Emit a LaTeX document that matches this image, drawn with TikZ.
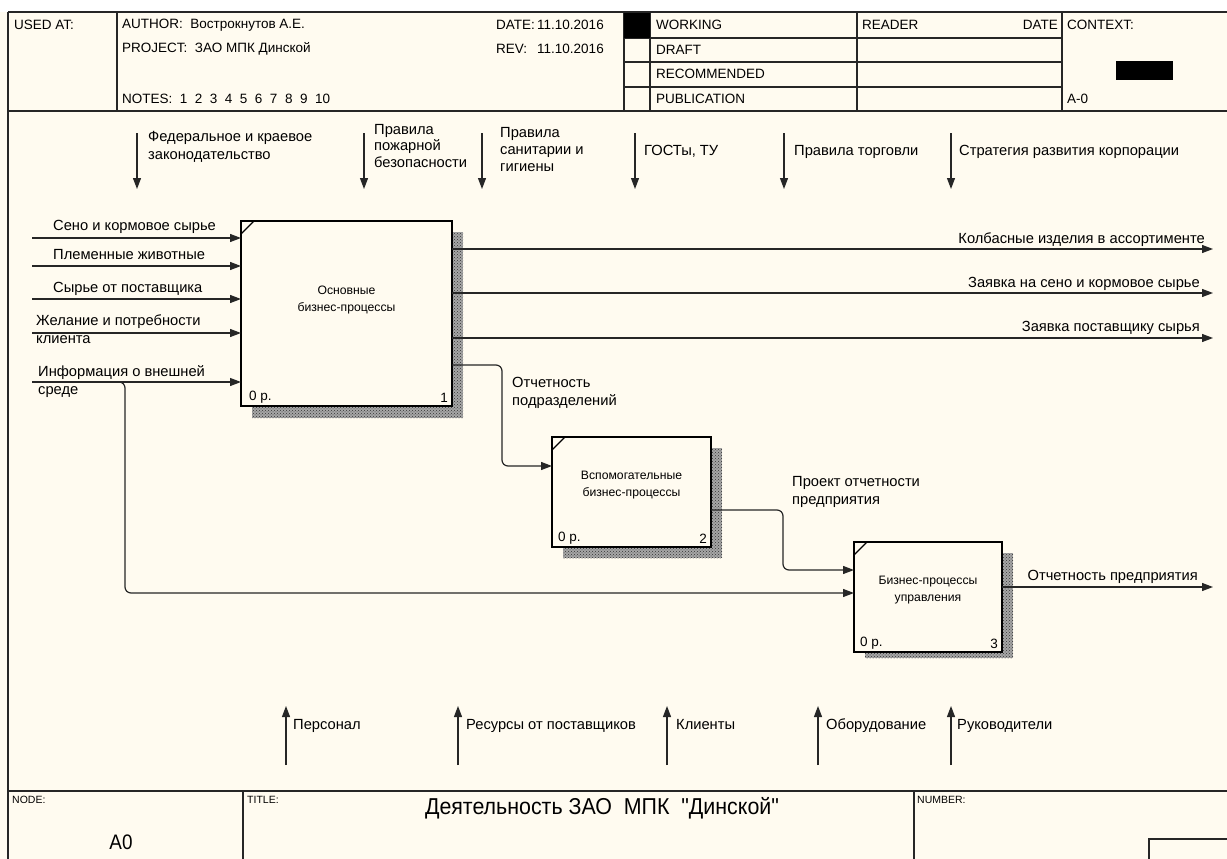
\documentclass[tikz,border=0pt]{standalone}
\usepackage{fontspec}
\usepackage{graphicx}
\setmainfont{Liberation Sans}
\newfontfamily\titlefam{Liberation Sans}
\usetikzlibrary{arrows.meta,patterns}
\definecolor{paper}{RGB}{255,251,240}
\newcommand\hdrfont{\fontsize{13.5}{15}\selectfont}
\newcommand\lblfont{\fontsize{14.7}{18}\selectfont}
\newcommand\boxfont{\fontsize{12.2}{17}\selectfont}
\newcommand\tinyfont{\fontsize{10.5}{12}\selectfont}
\pgfdeclarelayer{background}
\pgfsetlayers{background,main}
\begin{document}
\begin{tikzpicture}
[
x=1pt, y=-1pt,
frameline/.style={draw=black!85, line width=1.3pt},
procbox/.style={rectangle, draw=black, line width=2.2pt, fill=paper, anchor=north west, inner sep=0, outer sep=0},
boxtext/.style={align=center, inner sep=0, font=\boxfont},
arr/.style={draw=black!85, line width=1.2pt, -{Triangle[length=11pt,width=8pt]}},
lbl/.style={anchor=west, inner sep=0, align=left, font=\lblfont},
mlbl/.style={anchor=west, inner sep=0, font=\lblfont, text height=1.5ex, text depth=.4ex},
rlbl/.style={anchor=east, inner sep=0, align=right, font=\lblfont},
hdr/.style={anchor=west, inner sep=0, font=\hdrfont},
hatch/.style={preaction={fill=black!35}, pattern=crosshatch dots, pattern color=black!80}
]
\useasboundingbox (0,0) rectangle (1227,859);
%Frame
\draw[frameline] (8,12) -- (1227,12);
\draw[frameline] (8,111) -- (1227,111);
\draw[frameline] (8,791) -- (1227,791);
\draw[draw=black!85, line width=2.6pt] (8,12) -- (8,859);
\draw[frameline] (117,12) -- (117,111);
\draw[frameline] (624,12) -- (624,111);
\draw[frameline] (650,12) -- (650,111);
\draw[frameline] (857,12) -- (857,111);
\draw[frameline] (1062,12) -- (1062,111);
\draw[frameline] (624,38) -- (1062,38);
\draw[frameline] (624,62) -- (1062,62);
\draw[frameline] (624,87) -- (1062,87);
\fill[black] (624,13) rectangle (650,38);
\fill[black] (1116,61) rectangle (1173,80);
\draw[frameline] (243,791) -- (243,859);
\draw[frameline] (914,791) -- (914,859);
\draw[frameline] (1149,859) -- (1149,839) -- (1227,839);

%Header
\node[hdr] at(14,25)		(usedat) {USED AT:};
\node[hdr] at(122,25)		(author) {AUTHOR:\ \ Вострокнутов А.Е.};
\node[hdr] at(122,49)		(project) {PROJECT:\ \ ЗАО МПК Динской};
\node[hdr] at(122,99)		(notes) {NOTES:\ \ 1\ \ 2\ \ 3\ \ 4\ \ 5\ \ 6\ \ 7\ \ 8\ \ 9\ \ 10};
\node[hdr] at(496,25)		(date) {DATE:};
\node[hdr] at(537,25)		(dateval) {11.10.2016};
\node[hdr] at(496,49)		(rev) {REV:};
\node[hdr] at(537,49)		(revval) {11.10.2016};
\node[hdr] at(656,25)		(working) {WORKING};
\node[hdr] at(656,50)		(draft) {DRAFT};
\node[hdr] at(656,74)		(recom) {RECOMMENDED};
\node[hdr] at(656,99)		(public) {PUBLICATION};
\node[hdr] at(862,25)		(reader) {READER};
\node[hdr, anchor=east] at(1058,25)	(rdate) {DATE};
\node[hdr] at(1067,25)		(context) {CONTEXT:};
\node[hdr] at(1067,99)		(ctxnode) {A-0};

%Boxes
\node[procbox, minimum width=211pt, minimum height=185pt] at(241,221)	(b1) {};
\node[procbox, minimum width=159pt, minimum height=110pt] at(552,437)	(b2) {};
\node[procbox, minimum width=148pt, minimum height=110pt] at(854,542)	(b3) {};
\node[boxtext] at([yshift=13pt]b1.center)	(t1) {Основные\\бизнес-процессы};
\node[boxtext] at([yshift=7pt]b2.center)	(t2) {Вспомогательные\\бизнес-процессы};
\node[boxtext] at([yshift=7pt]b3.center)	(t3) {Бизнес-процессы\\управления};
\node[hdr, anchor=south west] at([shift={(8pt,3pt)}]b1.south west)	(p1) {0 р.};
\node[hdr, anchor=south west] at([shift={(6pt,3pt)}]b2.south west)	(p2) {0 р.};
\node[hdr, anchor=south west] at([shift={(6pt,3pt)}]b3.south west)	(p3) {0 р.};
\node[hdr, anchor=south east] at([shift={(-4pt,3pt)}]b1.south east)	(n1) {1};
\node[hdr, anchor=south east] at([shift={(-4pt,3pt)}]b2.south east)	(n2) {2};
\node[hdr, anchor=south east] at([shift={(-4pt,3pt)}]b3.south east)	(n3) {3};
\draw[line width=1.2pt] ([yshift=-13pt]b1.north west) -- ([xshift=13pt]b1.north west);
\draw[line width=1.2pt] ([yshift=-13pt]b2.north west) -- ([xshift=13pt]b2.north west);
\draw[line width=1.2pt] ([yshift=-13pt]b3.north west) -- ([xshift=13pt]b3.north west);

%Inputs
\coordinate (in1) at (32,238);
\coordinate (in2) at (32,266);
\coordinate (in3) at (32,299);
\coordinate (in4) at (32,333);
\coordinate (in5) at (32,382);
\draw[arr] (in1) -- (in1 -| b1.west);
\draw[arr] (in2) -- (in2 -| b1.west);
\draw[arr] (in3) -- (in3 -| b1.west);
\draw[arr] (in4) -- (in4 -| b1.west);
\draw[arr] (in5) -- (in5 -| b1.west);
\node[lbl] at(53,227)		(l1) {Сено и кормовое сырье};
\node[lbl] at(53,255)		(l2) {Племенные животные};
\node[lbl] at(53,289)		(l3) {Сырье от поставщика};
\node[lbl] at(36,329)		(l4) {Желание и потребности\\клиента};
\node[lbl] at(38,382)		(l5) {Информация о внешней\\среде};
\coordinate (br) at (116,382);
\coordinate (k5) at (125,593);
\draw[arr, rounded corners=6pt] (br) -| (k5) -- (k5 -| b3.west);

%Outputs
\coordinate (out1) at (1213,249);
\coordinate (out2) at (1213,293);
\coordinate (out3) at (1213,338);
\coordinate (out4) at (1213,587);
\draw[arr] (out1 -| b1.east) -- (out1);
\draw[arr] (out2 -| b1.east) -- (out2);
\draw[arr] (out3 -| b1.east) -- (out3);
\draw[arr] (out4 -| b3.east) -- (out4);
\node[rlbl] at(1205,240)	(r1) {Колбасные изделия в ассортименте};
\node[rlbl] at(1200,284)	(r2) {Заявка на сено и кормовое сырье};
\node[rlbl] at(1200,328)	(r3) {Заявка поставщику сырья};
\node[rlbl] at(1198,577)	(r4) {Отчетность предприятия};

%Links
\coordinate (k1) at (502,365);
\coordinate (k2) at (502,466);
\draw[arr, rounded corners=6pt] (k1 -| b1.east) -- (k1) -- (k2) -- (k2 -| b2.west);
\node[lbl] at(512,393)		(l12) {Отчетность\\подразделений};
\coordinate (k3) at (783,510);
\coordinate (k4) at (783,570);
\draw[arr, rounded corners=6pt] (k3 -| b2.east) -- (k3) -- (k4) -- (k4 -| b3.west);
\node[lbl] at(792,492)		(l23) {Проект отчетности\\предприятия};

%Controls
\coordinate (c1) at (137,133);
\coordinate (c2) at (364,133);
\coordinate (c3) at (482,133);
\coordinate (c4) at (635,133);
\coordinate (c5) at (784,133);
\coordinate (c6) at (951,133);
\draw[arr] (c1) -- ++(0,56);
\draw[arr] (c2) -- ++(0,56);
\draw[arr] (c3) -- ++(0,56);
\draw[arr] (c4) -- ++(0,56);
\draw[arr] (c5) -- ++(0,56);
\draw[arr] (c6) -- ++(0,56);
\node[lbl] at(148,147)		(u1) {Федеральное и краевое\\законодательство};
\node[lbl, font=\fontsize{14.7}{16.5}\selectfont] at(374,146)	(u2) {Правила\\пожарной\\безопасности};
\node[lbl, font=\fontsize{14.7}{17}\selectfont] at(500,150)	(u3) {Правила\\санитарии и\\гигиены};
\node[mlbl] at(644,153)		(u4) {ГОСТы, ТУ};
\node[mlbl] at(794,153)		(u5) {Правила торговли};
\node[mlbl] at(959,153)		(u6) {Стратегия развития корпорации};

%Mechanisms
\coordinate (m1) at (286,765);
\coordinate (m2) at (458,765);
\coordinate (m3) at (667,765);
\coordinate (m4) at (818,765);
\coordinate (m5) at (951,765);
\draw[arr] (m1) -- ++(0,-59);
\draw[arr] (m2) -- ++(0,-59);
\draw[arr] (m3) -- ++(0,-59);
\draw[arr] (m4) -- ++(0,-59);
\draw[arr] (m5) -- ++(0,-59);
\node[mlbl] at(293,727)		(d1) {Персонал};
\node[mlbl] at(466,727)		(d2) {Ресурсы от поставщиков};
\node[mlbl] at(676,727)		(d3) {Клиенты};
\node[mlbl] at(826,727)		(d4) {Оборудование};
\node[mlbl] at(957,727)		(d5) {Руководители};

%Footer
\node[hdr, font=\tinyfont] at(12,800)	(nodelbl) {NODE:};
\node[hdr, font=\tinyfont] at(247,800)	(titlelbl) {TITLE:};
\node[hdr, font=\tinyfont] at(917,800)	(numlbl) {NUMBER:};
\node[font=\fontsize{21}{24}\selectfont, inner sep=0] at(121,842)	(nodeval) {\scalebox{0.9}[1]{A0}};
\node[font=\titlefam\fontsize{23}{26}\selectfont, inner sep=0] at(602,808)	(title) {\scalebox{0.93}[1]{Деятельность ЗАО\ \ МПК\ \ "Динской"}};

\begin{pgfonlayer}{background}
\fill[paper] (0,12) rectangle (1227,859);
\fill[hatch] ([shift={(11pt,-11pt)}]b1.north west) rectangle ([shift={(11pt,-12pt)}]b1.south east);
\fill[hatch] ([shift={(11pt,-11pt)}]b2.north west) rectangle ([shift={(11pt,-11pt)}]b2.south east);
\fill[hatch] ([shift={(11pt,-11pt)}]b3.north west) rectangle ([shift={(11pt,-6pt)}]b3.south east);
\end{pgfonlayer}
\end{tikzpicture}
\end{document}
